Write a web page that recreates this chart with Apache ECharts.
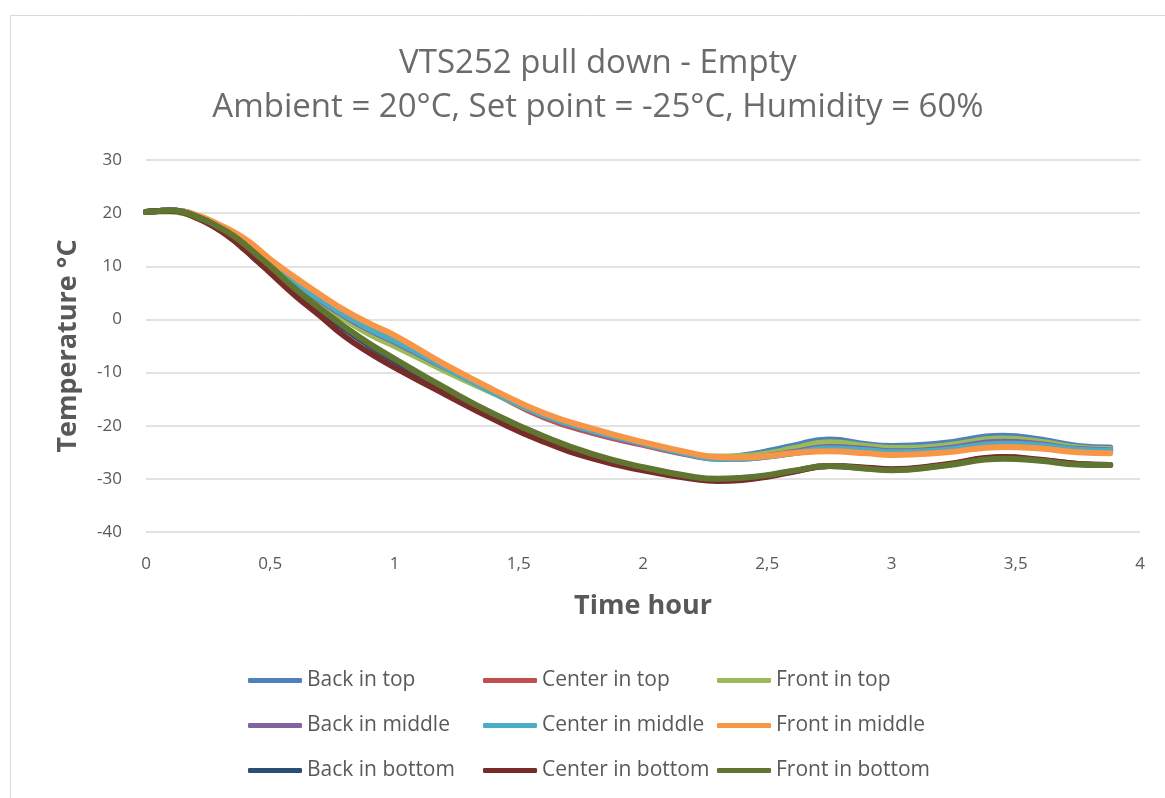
<!DOCTYPE html>
<html>
<head>
<meta charset="utf-8">
<title>VTS252 pull down - Empty</title>
<script src="https://cdn.jsdelivr.net/npm/echarts@6/dist/echarts.min.js"></script>
<style>
  html, body { margin: 0; padding: 0; background: #fff; }
  #chart { width: 1165px; height: 798px; }
</style>
</head>
<body>
<div id="chart"></div>
<script>
// time in hours
const hours = [0, 0.05, 0.1, 0.15, 0.2, 0.25, 0.3, 0.35, 0.4, 0.45, 0.5, 0.6, 0.7, 0.8, 0.9, 1.0, 1.2, 1.4, 1.6, 1.8, 2.0, 2.2, 2.3, 2.4, 2.5, 2.6, 2.75, 2.9, 3.0, 3.2, 3.45, 3.6, 3.75, 3.88]

const backTop = [20.2, 20.4, 20.5, 20.2, 19.5, 18.5, 17.3, 15.9, 14.3, 12.4, 10.4, 6.6, 3.4, 0.4, -2.3, -4.6, -9.3, -13.8, -18.0, -21.0, -23.4, -25.5, -26.0, -25.6, -24.8, -23.8, -22.6, -23.5, -23.8, -23.3, -21.9, -22.6, -23.8, -24.1]
const centerTop = [20.2, 20.4, 20.5, 20.2, 19.5, 18.5, 17.3, 15.9, 14.3, 12.4, 10.4, 6.6, 3.5, 0.5, -2.1, -4.3, -9.1, -13.8, -18.4, -21.4, -23.6, -25.6, -26.2, -26.2, -25.8, -25.2, -24.4, -24.8, -25.1, -24.7, -23.6, -23.9, -24.6, -24.8]
const frontTop = [20.2, 20.3, 20.3, 20.0, 19.2, 18.1, 16.9, 15.5, 13.9, 12.0, 10.0, 6.2, 3.0, 0.0, -2.8, -5.0, -9.6, -13.9, -18.0, -21.0, -23.4, -25.4, -25.8, -25.7, -25.2, -24.3, -23.1, -23.8, -24.2, -23.8, -22.4, -23.0, -24.1, -24.4]
const backMiddle = [20.2, 20.4, 20.5, 20.3, 19.6, 18.6, 17.4, 16.1, 14.5, 12.6, 10.6, 6.8, 3.6, 0.6, -2.0, -4.2, -9.0, -13.6, -18.0, -21.1, -23.4, -25.5, -26.1, -26.1, -25.7, -25.0, -24.0, -24.4, -24.8, -24.4, -23.0, -23.5, -24.4, -24.6]
const centerMiddle = [20.2, 20.4, 20.5, 20.3, 19.6, 18.7, 17.5, 16.2, 14.7, 12.8, 10.8, 6.9, 3.8, 0.8, -1.8, -4.0, -8.9, -13.8, -18.0, -21.0, -23.3, -25.5, -26.2, -26.2, -25.8, -25.2, -24.3, -24.6, -25.0, -24.6, -23.4, -23.7, -24.5, -24.7]
const frontMiddle = [20.2, 20.4, 20.5, 20.3, 19.7, 18.8, 17.7, 16.5, 15.1, 13.3, 11.3, 7.9, 4.7, 1.7, -0.8, -3.0, -8.4, -13.3, -17.6, -20.6, -23.1, -25.2, -25.9, -26.0, -25.7, -25.2, -24.8, -25.2, -25.5, -25.1, -24.0, -24.3, -25.0, -25.2]
const backBottom = [20.2, 20.4, 20.5, 20.2, 19.4, 18.4, 17.1, 15.7, 13.9, 11.8, 9.8, 5.4, 1.7, -1.8, -5.0, -7.8, -13.2, -18.2, -22.4, -25.7, -28.0, -29.8, -30.2, -30.0, -29.4, -28.6, -27.6, -28.0, -28.3, -27.5, -26.0, -26.5, -27.2, -27.4]
const centerBottom = [20.2, 20.4, 20.4, 20.1, 19.2, 18.1, 16.7, 15.0, 13.0, 10.9, 8.8, 4.5, 0.7, -3.2, -6.3, -9.0, -14.0, -18.8, -23.0, -26.2, -28.4, -30.0, -30.4, -30.2, -29.6, -28.7, -27.6, -27.9, -28.2, -27.4, -25.9, -26.4, -27.2, -27.4]
const frontBottom = [20.2, 20.4, 20.5, 20.2, 19.4, 18.4, 17.2, 15.8, 14.0, 12.0, 10.0, 5.8, 2.1, -1.4, -4.6, -7.4, -12.8, -17.8, -22.0, -25.4, -27.8, -29.6, -30.0, -29.8, -29.3, -28.5, -27.6, -28.1, -28.4, -27.6, -26.2, -26.6, -27.3, -27.4]

const seriesNames = ['Back in top', 'Center in top', 'Front in top', 'Back in middle', 'Center in middle', 'Front in middle', 'Back in bottom', 'Center in bottom', 'Front in bottom']
const seriesValues = [backTop, centerTop, frontTop, backMiddle, centerMiddle, frontMiddle, backBottom, centerBottom, frontBottom]
const colors = ['#4F81BD', '#C0504D', '#9BBB59', '#8064A2', '#4BACC6', '#F79646', '#2C4D75', '#772C2A', '#5F7530']

const FONT = '"Open Sans", "Noto Sans", sans-serif'
const GREY = '#595959'

const chart = echarts.init(document.getElementById('chart'))

// one vertical legend per column, so the columns line up like in Excel
const legendCol = (names, left) => ({
  orient: 'vertical',
  left: left,
  top: 670,
  padding: 0,
  itemGap: 24,
  itemWidth: 54,
  itemHeight: 5,
  icon: 'roundRect',
  data: names,
  textStyle: { fontFamily: FONT, fontSize: 21, color: GREY, padding: [0, 0, 0, 0] },
})

chart.setOption({
  animation: false,
  color: colors,
  title: {
    text: 'VTS252 pull down - Empty\nAmbient = 20°C, Set point = -25°C, Humidity = 60%',
    left: 593,
    textAlign: 'center',
    top: 37,
    textStyle: { fontFamily: FONT, fontSize: 33, fontWeight: 'normal', color: '#6b6b6b', lineHeight: 44 },
  },
  graphic: [
    {
      type: 'rect',
      shape: { x: 10.5, y: 15.5, width: 1170, height: 800 },
      style: { fill: 'none', stroke: '#d9d9d9', lineWidth: 1 },
      silent: true,
    },
  ],
  legend: [
    legendCol([seriesNames[0], seriesNames[3], seriesNames[6]], 248),
    legendCol([seriesNames[1], seriesNames[4], seriesNames[7]], 483),
    legendCol([seriesNames[2], seriesNames[5], seriesNames[8]], 717),
  ],
  grid: { left: 146, right: 25, top: 160, bottom: 266 },
  xAxis: {
    type: 'value',
    min: 0,
    max: 4,
    interval: 0.5,
    name: 'Time hour',
    nameLocation: 'middle',
    nameGap: 61,
    nameTextStyle: { fontFamily: FONT, fontSize: 27, fontWeight: 'bold', color: GREY },
    axisLine: { show: false },
    axisTick: { show: false },
    axisLabel: {
      margin: 24,
      fontFamily: FONT,
      fontSize: 17,
      color: GREY,
      formatter: v => String(v).replace('.', ','),
    },
    splitLine: { show: false },
  },
  yAxis: {
    type: 'value',
    min: -40,
    max: 30,
    interval: 10,
    name: 'Temperature °C',
    nameLocation: 'middle',
    nameGap: 64,
    nameTextStyle: { fontFamily: FONT, fontSize: 27, fontWeight: 'bold', color: GREY },
    axisLine: { show: false },
    axisTick: { show: false },
    axisLabel: { margin: 24, fontFamily: FONT, fontSize: 17, color: GREY },
    splitLine: { lineStyle: { color: '#d9d9d9', width: 1.5 } },
  },
  series: seriesNames.map((name, i) => ({
    name: name,
    type: 'line',
    smooth: 0.5,
    showSymbol: false,
    symbol: 'none',
    lineStyle: { width: 6, color: colors[i], cap: 'round' },
    itemStyle: { color: colors[i] },
    data: hours.map((h, j) => [h, seriesValues[i][j]]),
  })),
})
</script>
</body>
</html>
